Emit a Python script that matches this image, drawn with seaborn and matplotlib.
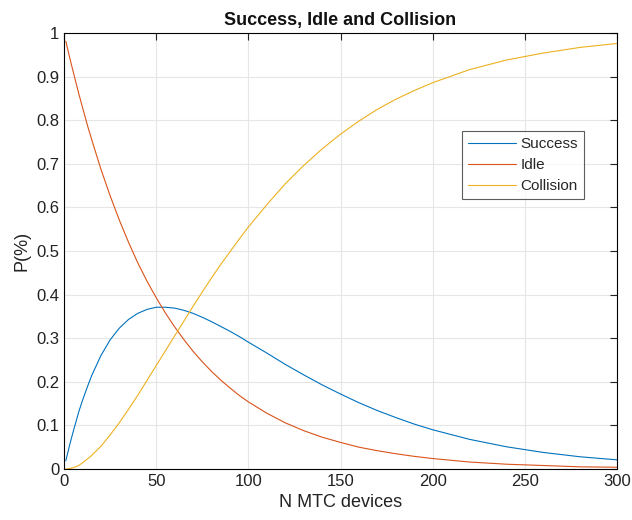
import numpy as np
import pandas as pd
import seaborn as sns
import matplotlib.pyplot as plt

# values
n_devices = [1, 3, 5, 8, 10, 13, 15, 20, 25, 30, 35, 40, 45, 50, 55, 60, 65, 70, 75, 80, 85, 90, 95, 100,
             110, 120, 130, 140, 150, 160, 170, 180, 190, 200, 220, 240, 260, 280, 300]
success = [0.019, 0.054, 0.086, 0.131, 0.157, 0.192, 0.214, 0.260, 0.296, 0.323, 0.343, 0.357,
           0.366, 0.371, 0.371, 0.369, 0.364, 0.357, 0.348, 0.338, 0.327, 0.316, 0.304, 0.291,
           0.266, 0.240, 0.216, 0.193, 0.172, 0.152, 0.134, 0.118, 0.103, 0.090, 0.068, 0.051,
           0.038, 0.028, 0.021]
idle = [0.981, 0.945, 0.911, 0.861, 0.830, 0.784, 0.756, 0.688, 0.627, 0.571, 0.520, 0.473,
        0.431, 0.393, 0.358, 0.326, 0.297, 0.270, 0.246, 0.224, 0.204, 0.186, 0.169, 0.154,
        0.128, 0.106, 0.088, 0.073, 0.061, 0.050, 0.042, 0.035, 0.029, 0.024, 0.016, 0.011,
        0.008, 0.005, 0.004]
collision = [0.000, 0.001, 0.003, 0.008, 0.014, 0.024, 0.031, 0.052, 0.078, 0.106, 0.137, 0.169,
             0.203, 0.237, 0.271, 0.305, 0.339, 0.373, 0.406, 0.438, 0.469, 0.498, 0.527, 0.555,
             0.606, 0.654, 0.696, 0.734, 0.768, 0.798, 0.825, 0.848, 0.868, 0.886, 0.916, 0.938,
             0.954, 0.967, 0.976]

df = pd.DataFrame({"N": n_devices, "Success": success, "Idle": idle, "Collision": collision})
df = df.melt(id_vars="N", var_name="kind", value_name="P")

sns.set_style("white")
plt.rcParams['font.family'] = ['Liberation Sans', 'DejaVu Sans']

fig = plt.figure(figsize=(6.32, 5.2), dpi=100)
ax = fig.add_axes([64 / 632, 1 - 469 / 520, 553 / 632, 436 / 520])

colors = ["#0072BD", "#D95319", "#EDB120"]
sns.lineplot(data=df, x="N", y="P", hue="kind", palette=colors, linewidth=0.8, ax=ax)

ax.set_xlim(0, 300)
ax.set_ylim(0, 1)
ax.set_xticks([0, 50, 100, 150, 200, 250, 300])
ax.set_yticks(np.arange(0, 1.01, 0.1))
ax.set_yticklabels(["0", "0.1", "0.2", "0.3", "0.4", "0.5", "0.6", "0.7", "0.8", "0.9", "1"])
ax.grid(True, color="#e6e6e6", linewidth=0.8)
ax.set_axisbelow(True)
for s in ax.spines.values():
    s.set_color("black")
    s.set_linewidth(0.8)
ax.tick_params(direction="in", top=True, right=True, length=5, width=0.8,
               labelsize=12, colors="#222222")
ax.set_xlabel("N MTC devices", fontsize=13, color="#222222")
ax.set_ylabel("P(%)", fontsize=13, color="#222222")
ax.set_title("Success, Idle and Collision", fontsize=13, fontweight="bold", color="#111111")

leg = ax.legend(loc="upper left", bbox_to_anchor=(0.72, 0.775), fontsize=11,
                frameon=True, fancybox=False, edgecolor="#333333", handlelength=3.1,
                borderpad=0.4, labelspacing=0.45, handletextpad=0.3, borderaxespad=0)
leg.get_frame().set_linewidth(0.8)
leg.set_title(None)

fig.savefig("out.png", dpi=100)
